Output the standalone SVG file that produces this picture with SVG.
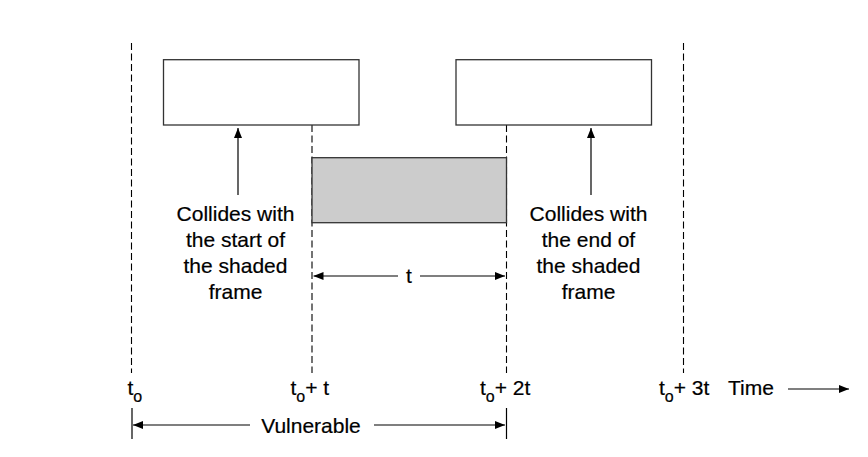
<svg xmlns="http://www.w3.org/2000/svg" width="868" height="457" viewBox="0 0 868 457">
<style>
.box{fill:#fff;stroke:#333;stroke-width:1.3}
.shade{fill:#cccccc;stroke:#333;stroke-width:1.3}
.dash{stroke:#000;stroke-width:1.1;stroke-dasharray:7,3.5;fill:none}
.ln{stroke:#000;stroke-width:1.2;fill:none}
text{font-family:"Liberation Sans",Arial,sans-serif;font-size:21px;fill:#000;stroke:#000;stroke-width:0.2}
.c{text-anchor:middle}
.sub{font-size:16px}
</style>
<defs>
<marker id="ah" viewBox="0 0 10 8" refX="10" refY="4" markerWidth="10" markerHeight="8" markerUnits="userSpaceOnUse" orient="auto">
<path d="M0,0 L10,4 L0,8 z" fill="#000"/>
</marker>
</defs>
<rect width="868" height="457" fill="#fff"/>
<g id="guides">
<line class="dash" x1="131.5" y1="43" x2="131.5" y2="373"/>
<line class="dash" x1="312" y1="125" x2="312" y2="373"/>
<line class="dash" x1="506.5" y1="125" x2="506.5" y2="373"/>
<line class="dash" x1="683.5" y1="43" x2="683.5" y2="373"/>
</g>
<g id="frame-left"><rect class="box" x="163.5" y="59.7" width="195.5" height="65.3"/></g>
<g id="frame-right"><rect class="box" x="456" y="59.7" width="195.5" height="65.3"/></g>
<g id="frame-shaded"><rect class="shade" x="312" y="157.7" width="194.5" height="65"/></g>
<g id="connectors">
<line class="ln" x1="238" y1="195" x2="238" y2="128" marker-end="url(#ah)"/>
<line class="ln" x1="591" y1="195" x2="591" y2="128" marker-end="url(#ah)"/>
<line class="ln" x1="398" y1="276" x2="313.5" y2="276" marker-end="url(#ah)"/>
<line class="ln" x1="420" y1="276" x2="505" y2="276" marker-end="url(#ah)"/>
<line class="ln" x1="250" y1="425" x2="133" y2="425" marker-end="url(#ah)"/>
<line class="ln" x1="374" y1="425" x2="505" y2="425" marker-end="url(#ah)"/>
<line class="ln" x1="132" y1="408" x2="132" y2="439"/>
<line class="ln" x1="506.5" y1="408" x2="506.5" y2="439"/>
<line class="ln" x1="788" y1="389" x2="849" y2="389" marker-end="url(#ah)"/>
</g>
<g id="label-left">
<text class="c" x="235.5" y="221">Collides with</text>
<text class="c" x="235.5" y="247">the start of</text>
<text class="c" x="235.5" y="273">the shaded</text>
<text class="c" x="235.5" y="299">frame</text>
</g>
<g id="label-right">
<text class="c" x="588.5" y="221">Collides with</text>
<text class="c" x="588.5" y="247">the end of</text>
<text class="c" x="588.5" y="273">the shaded</text>
<text class="c" x="588.5" y="299">frame</text>
</g>
<g id="labels-time">
<text class="c" x="409" y="283">t</text>
<text x="127.5" y="395">t<tspan class="sub" dy="7">o</tspan></text>
<text x="290.5" y="395">t<tspan class="sub" dy="7">o</tspan><tspan dy="-7">+ t</tspan></text>
<text x="480" y="395">t<tspan class="sub" dy="7">o</tspan><tspan dy="-7">+ 2t</tspan></text>
<text x="659" y="395">t<tspan class="sub" dy="7">o</tspan><tspan dy="-7">+ 3t</tspan></text>
<text x="728" y="395">Time</text>
<text class="c" x="311" y="433">Vulnerable</text>
</g>
</svg>
